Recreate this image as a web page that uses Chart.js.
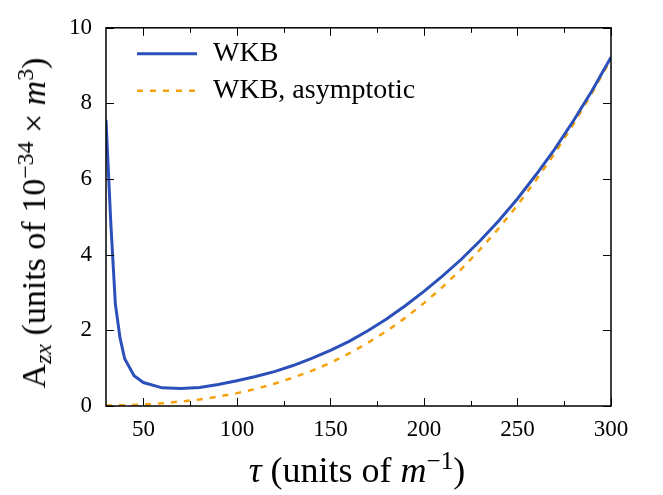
<!DOCTYPE html>
<html>
<head>
<meta charset="utf-8">
<script src="https://cdn.jsdelivr.net/npm/chart.js@4.4.1/dist/chart.umd.min.js"></script>
<style>
    body { margin: 0; background: #fff; }
    .lienzo { position: relative; width: 663px; height: 495px; }
    canvas { position: absolute; left: 0; top: 0; }
    .etiqueta {
        position: absolute;
        font-family: "Liberation Serif", serif;
        font-size: 34px;
        line-height: 1;
        white-space: nowrap;
        color: #000;
    }
    .etiqueta sup { font-size: 0.7em; line-height: 0; vertical-align: 0.5em; }
    .etiqueta sub { font-size: 0.7em; line-height: 0; vertical-align: -0.25em; }
    .eje-x { left: 357px; top: 470px; font-size: 36px; transform: translate(-50%, -50%); }
    .eje-y { left: 34px; top: 223px; transform: translate(-50%, -50%) rotate(-90deg); }
</style>
</head>
<body>
<div class="lienzo">
    <canvas id="grafica" width="663" height="495"></canvas>
    <div class="etiqueta eje-x"><i>τ</i> (units of <i>m</i><sup>−1</sup>)</div>
    <div class="etiqueta eje-y">A<sub><i>zx</i></sub> (units of 10<sup>−34</sup> × <i>m</i><sup>3</sup>)</div>
</div>
<script>
// datos
const tauWkb = [30, 32.5, 35, 37.5, 40, 45, 50, 60, 70, 80, 90, 100, 110, 120, 130, 140, 150, 160, 170, 180, 190, 200, 210, 220, 230, 240, 250, 260, 270, 280, 290, 300]
const aWkb = [7.57, 4.9, 2.7, 1.8, 1.25, 0.8, 0.62, 0.48, 0.46, 0.49, 0.57, 0.67, 0.78, 0.91, 1.07, 1.26, 1.47, 1.71, 1.99, 2.30, 2.65, 3.03, 3.44, 3.88, 4.37, 4.90, 5.48, 6.12, 6.80, 7.55, 8.35, 9.22]

const tauAsint = [30, 40, 50, 60, 70, 80, 90, 100, 110, 120, 130, 140, 150, 160, 170, 180, 190, 200, 210, 220, 230, 240, 250, 260, 270, 280, 290, 300]
const aAsint = [0.01, 0.02, 0.04, 0.07, 0.12, 0.17, 0.25, 0.34, 0.45, 0.59, 0.75, 0.93, 1.14, 1.39, 1.67, 1.98, 2.33, 2.72, 3.15, 3.62, 4.14, 4.70, 5.31, 5.98, 6.69, 7.46, 8.29, 9.18]

const etiquetas = ["WKB", "WKB, asymptotic"]
const ticksX = [50, 100, 150, 200, 250, 300]
const ticksXMenores = [75, 125, 175, 225, 275]
const ticksY = [0, 2, 4, 6, 8, 10]

const azul = "#2c50b9"
const naranja = "#f5a10c"
const fuente = "'Liberation Serif', 'Times New Roman', serif"

// marco con ticks hacia dentro en los cuatro lados + leyenda
const marcoEjes = {
    id: "marcoEjes",
    afterDraw(chart) {
        const ctx = chart.ctx
        const area = chart.chartArea
        const x = chart.scales.x
        const y = chart.scales.y
        ctx.save()
        ctx.strokeStyle = "#000"
        ctx.lineWidth = 1
        ctx.beginPath()
        ticksX.forEach(v => {
            const px = Math.round(x.getPixelForValue(v)) + 0.5
            ctx.moveTo(px, area.bottom); ctx.lineTo(px, area.bottom - 8)
            ctx.moveTo(px, area.top); ctx.lineTo(px, area.top + 8)
        })
        ticksXMenores.forEach(v => {
            const px = Math.round(x.getPixelForValue(v)) + 0.5
            ctx.moveTo(px, area.bottom); ctx.lineTo(px, area.bottom - 5)
            ctx.moveTo(px, area.top); ctx.lineTo(px, area.top + 5)
        })
        ticksY.forEach(v => {
            const py = Math.round(y.getPixelForValue(v)) + 0.5
            ctx.moveTo(area.left, py); ctx.lineTo(area.left + 8, py)
            ctx.moveTo(area.right, py); ctx.lineTo(area.right - 8, py)
        })
        ctx.stroke()

        ctx.lineWidth = 1.5
        ctx.strokeRect(area.left, area.top, area.right - area.left, area.bottom - area.top)

        // leyenda
        const filas = [{ color: azul, ancho: 3, guion: [] }, { color: naranja, ancho: 2.5, guion: [6, 7] }]
        filas.forEach((fila, i) => {
            const yy = area.top + 26 + i * 37
            ctx.strokeStyle = fila.color
            ctx.lineWidth = fila.ancho
            ctx.setLineDash(fila.guion)
            ctx.beginPath()
            ctx.moveTo(area.left + 31, yy)
            ctx.lineTo(area.left + 91, yy)
            ctx.stroke()
            ctx.setLineDash([])
            ctx.fillStyle = "#000"
            ctx.font = "28px " + fuente
            ctx.textBaseline = "middle"
            ctx.fillText(etiquetas[i], area.left + 107, yy)
        })
        ctx.restore()
    }
}

function puntos(xs, ys) {
    return xs.map((t, i) => ({ x: t, y: ys[i] }))
}

function dibujar() {
    new Chart(document.getElementById("grafica"), {
        type: "line",
        data: {
            datasets: [{
                label: etiquetas[0],
                data: puntos(tauWkb, aWkb),
                borderColor: azul,
                borderWidth: 3,
                pointRadius: 0,
                tension: 0,
            },
            {
                label: etiquetas[1],
                data: puntos(tauAsint, aAsint),
                borderColor: naranja,
                borderWidth: 2.5,
                borderDash: [6, 7],
                pointRadius: 0,
                tension: 0,
            }]
        },
        options: {
            responsive: false,
            animation: false,
            devicePixelRatio: 1,
            layout: { padding: { left: 50, top: 13, right: 52, bottom: 49 } },
            plugins: { legend: { display: false }, tooltip: { enabled: false } },
            scales: {
                x: {
                    type: "linear",
                    min: 30,
                    max: 300,
                    grid: { display: false, drawTicks: false },
                    border: { display: false },
                    afterBuildTicks: s => { s.ticks = ticksX.map(v => ({ value: v })) },
                    afterFit: s => { s.height = 40 },
                    ticks: { color: "#000", padding: 10, maxRotation: 0, font: { family: fuente, size: 23 } }
                },
                y: {
                    min: 0,
                    max: 10,
                    grid: { display: false, drawTicks: false },
                    border: { display: false },
                    afterBuildTicks: s => { s.ticks = ticksY.map(v => ({ value: v })) },
                    afterFit: s => { s.width = 56 },
                    ticks: { color: "#000", padding: 14, font: { family: fuente, size: 23 } }
                }
            }
        },
        plugins: [marcoEjes]
    })
}

document.fonts.load("23px 'Liberation Serif'").then(dibujar, dibujar)
</script>
</body>
</html>
